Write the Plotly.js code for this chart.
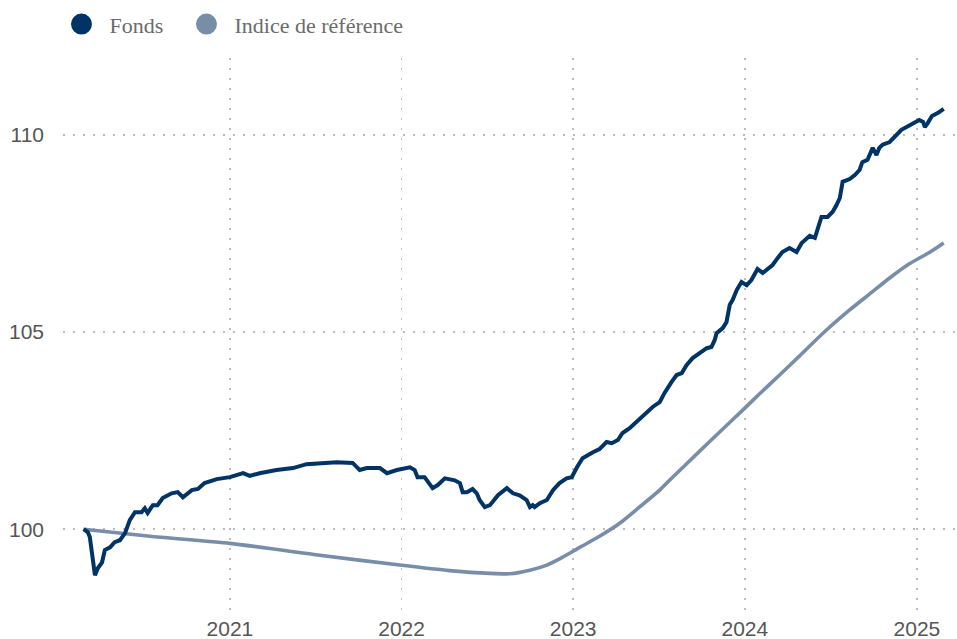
<!DOCTYPE html>
<html>
<head>
<meta charset="utf-8">
<script src="https://cdn.plot.ly/plotly-3.0.1.min.js"></script>
<style>html,body{margin:0;padding:0;background:#fff;}#chart{width:957px;height:639px;}</style>
</head>
<body>
<div id="chart"></div>
<script>
const fundDates = ["2020-02-25","2020-03-05","2020-03-09","2020-03-16","2020-03-20","2020-03-26","2020-04-04","2020-04-10","2020-04-21","2020-05-01","2020-05-12","2020-05-23","2020-06-02","2020-06-13","2020-06-27","2020-07-04","2020-07-10","2020-07-21","2020-07-31","2020-08-11","2020-08-30","2020-09-12","2020-09-23","2020-10-12","2020-10-25","2020-11-08","2020-12-04","2021-01-01","2021-01-29","2021-02-12","2021-03-05","2021-04-10","2021-05-15","2021-06-13","2021-07-11","2021-08-16","2021-09-19","2021-10-04","2021-10-19","2021-11-16","2021-12-01","2021-12-22","2022-01-19","2022-01-29","2022-02-04","2022-02-19","2022-03-08","2022-03-19","2022-04-03","2022-04-24","2022-05-05","2022-05-11","2022-05-20","2022-06-01","2022-06-10","2022-06-16","2022-06-27","2022-07-08","2022-07-25","2022-08-13","2022-08-26","2022-09-09","2022-09-24","2022-10-01","2022-10-07","2022-10-11","2022-10-22","2022-11-06","2022-11-19","2022-12-03","2022-12-18","2022-12-29","2023-01-09","2023-01-21","2023-02-12","2023-02-26","2023-03-13","2023-03-24","2023-04-06","2023-04-16","2023-05-01","2023-05-16","2023-06-06","2023-06-19","2023-07-04","2023-07-14","2023-07-29","2023-08-09","2023-08-20","2023-08-30","2023-09-12","2023-09-27","2023-10-12","2023-10-22","2023-10-29","2023-11-02","2023-11-15","2023-11-23","2023-11-30","2023-12-06","2023-12-15","2023-12-25","2024-01-05","2024-01-15","2024-01-28","2024-02-08","2024-02-29","2024-03-11","2024-03-21","2024-04-05","2024-04-20","2024-05-01","2024-05-18","2024-05-29","2024-06-04","2024-06-12","2024-06-25","2024-07-06","2024-07-14","2024-07-21","2024-07-27","2024-08-11","2024-08-22","2024-09-01","2024-09-07","2024-09-18","2024-09-29","2024-10-07","2024-10-13","2024-10-20","2024-11-04","2024-11-19","2024-11-29","2024-12-10","2024-12-23","2025-01-06","2025-01-14","2025-01-18","2025-01-24","2025-02-02","2025-02-15","2025-02-27"];
const fundValues = [100.00,99.92,99.80,99.14,98.83,99.01,99.16,99.47,99.54,99.67,99.72,99.90,100.23,100.43,100.43,100.53,100.41,100.61,100.61,100.79,100.91,100.94,100.81,100.99,101.02,101.17,101.27,101.32,101.42,101.35,101.42,101.50,101.55,101.65,101.68,101.70,101.68,101.50,101.55,101.55,101.42,101.50,101.57,101.50,101.32,101.32,101.04,101.12,101.29,101.24,101.17,100.94,100.94,101.02,100.91,100.74,100.56,100.61,100.86,101.04,100.91,100.86,100.74,100.56,100.61,100.56,100.66,100.74,100.99,101.17,101.29,101.32,101.57,101.80,101.95,102.03,102.21,102.18,102.26,102.44,102.56,102.72,102.97,103.10,103.22,103.45,103.73,103.91,103.96,104.16,104.34,104.47,104.59,104.62,104.80,104.97,105.10,105.25,105.69,105.81,106.07,106.27,106.19,106.32,106.60,106.50,106.70,106.88,107.03,107.13,107.03,107.26,107.44,107.39,107.64,107.92,107.92,108.05,108.22,108.40,108.81,108.88,108.98,109.11,109.31,109.37,109.67,109.49,109.67,109.75,109.82,110.00,110.13,110.20,110.30,110.38,110.33,110.20,110.30,110.48,110.56,110.66];

const indexDates = ["2020-02-25","2020-07-15","2021-01-01","2021-07-11","2021-12-28","2022-04-13","2022-07-08","2022-08-19","2022-10-01","2022-11-06","2022-12-10","2023-01-15","2023-02-26","2023-04-10","2023-05-22","2023-07-04","2023-07-25","2023-09-27","2023-11-08","2024-01-01","2024-02-01","2024-03-15","2024-04-26","2024-06-18","2024-08-11","2024-09-22","2024-11-04","2024-12-16","2025-01-29","2025-02-27"];
const indexValues = [100.00,99.82,99.64,99.34,99.09,98.95,98.88,98.87,98.96,99.09,99.29,99.54,99.82,100.15,100.56,100.99,101.24,101.98,102.46,103.07,103.43,103.91,104.39,105.00,105.56,105.96,106.37,106.73,107.03,107.26];

const seriesNames = ["Fonds", "Indice de référence"];
const seriesColors = ["#003366", "#778da8"];
const yTicks = [100, 105, 110];

const traces = [
  {x: indexDates, y: indexValues, type: "scatter", mode: "lines", line: {color: seriesColors[1], width: 3.6, shape: "spline", smoothing: 0.6}, showlegend: false, hoverinfo: "skip"},
  {x: fundDates, y: fundValues, type: "scatter", mode: "lines", line: {color: seriesColors[0], width: 4}, showlegend: false, hoverinfo: "skip"},
  {x: [null], y: [null], type: "scatter", mode: "markers", name: seriesNames[0], legend: "legend", marker: {color: seriesColors[0], size: 16, line: {color: seriesColors[0], width: 5}}},
  {x: [null], y: [null], type: "scatter", mode: "markers", name: seriesNames[1], legend: "legend2", marker: {color: seriesColors[1], size: 16, line: {color: seriesColors[1], width: 5}}}
];

const legendBase = {orientation: "h", xref: "container", yref: "container", y: 0.962, xanchor: "left", yanchor: "middle",
  itemwidth: 46, font: {family: "Liberation Serif, Times New Roman, serif", size: 22, color: "#6b6b6b"}, bgcolor: "rgba(0,0,0,0)"};

const layout = {
  width: 957, height: 639,
  margin: {l: 63, r: 2, t: 58, b: 27, pad: 0},
  paper_bgcolor: "#ffffff", plot_bgcolor: "#ffffff",
  showlegend: true,
  legend: Object.assign({}, legendBase, {x: 0.0559}),
  legend2: Object.assign({}, legendBase, {x: 0.1865}),
  xaxis: {type: "date", range: ["2020-01-12", "2025-03-23"], tick0: "2021-01-01", dtick: "M12", tickformat: "%Y",
          showgrid: true, gridcolor: "#bdbdbd", gridwidth: 1.5, griddash: "2px,8px", zeroline: false, showline: false, ticks: "",
          ticklabelstandoff: 2,
          tickfont: {family: "Liberation Sans, Arial, sans-serif", size: 21, color: "#555555"}},
  yaxis: {range: [97.9, 111.95], tickvals: yTicks, ticktext: yTicks.map(String),
          showgrid: true, gridcolor: "#bdbdbd", gridwidth: 1.5, griddash: "2px,8px", zeroline: false, showline: false, ticks: "",
          ticklabelstandoff: 18,
          tickfont: {family: "Liberation Sans, Arial, sans-serif", size: 21, color: "#555555"}}
};

Plotly.newPlot("chart", traces, layout, {staticPlot: true, displayModeBar: false});
</script>
</body>
</html>
